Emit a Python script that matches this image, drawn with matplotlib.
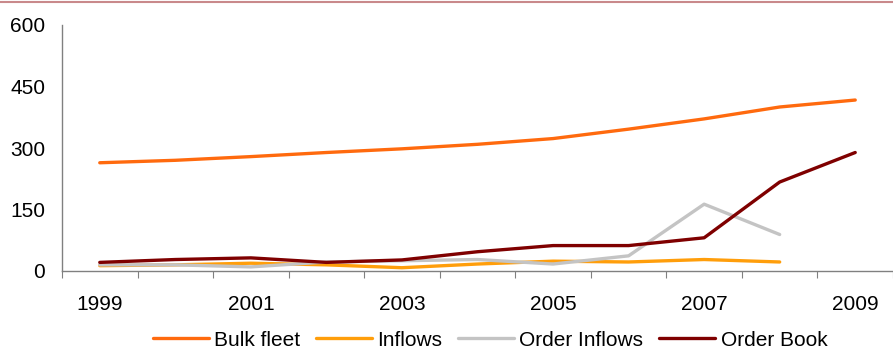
import matplotlib.pyplot as plt
from matplotlib.lines import Line2D

plt.rcParams['font.family'] = ['Liberation Sans', 'DejaVu Sans']

years = list(range(1999, 2010))
bulk_fleet = [264, 270, 279, 289, 298, 309, 323, 346, 371, 400, 417]
inflows = [13, 15, 19, 15, 8, 17, 24, 22, 28, 22]
order_inflows = [15, 15, 10, 22, 25, 28, 17, 37, 163, 89]
order_book = [21, 28, 32, 21, 27, 47, 62, 62, 81, 217, 289]

fig = plt.figure(figsize=(8.93, 3.5), dpi=100)
ax = fig.add_axes([62 / 893, 79 / 350, 831 / 893, 246 / 350])

x = list(range(len(years)))
lw = 2.4
ax.plot(x, bulk_fleet, color='#FF6A0E', lw=lw, label='Bulk fleet', solid_capstyle='round')
ax.plot(x[:len(inflows)], inflows, color='#FF9E0B', lw=lw, label='Inflows', solid_capstyle='round')
ax.plot(x[:len(order_inflows)], order_inflows, color='#C4C4C4', lw=lw, label='Order Inflows', solid_capstyle='round')
ax.plot(x, order_book, color='#7F0000', lw=lw, label='Order Book', solid_capstyle='round')

ax.set_xlim(-0.5, len(years) - 0.5)
ax.set_ylim(0, 600)
ax.set_yticks([0, 150, 300, 450, 600])
ax.tick_params(axis='y', length=0, labelsize=15, pad=12)

# tick marks between categories, labels on every other year
ax.set_xticks([i - 0.5 for i in range(len(years) + 1)])
ax.set_xticklabels([])
ax.tick_params(axis='x', which='major', direction='out', length=5, color='#808080')
ax.set_xticks(x[::2], minor=True)
ax.set_xticklabels([str(y) for y in years[::2]], minor=True)
ax.tick_params(axis='x', which='minor', length=0, labelsize=15, pad=17)

for s in ['top', 'right']:
    ax.spines[s].set_visible(False)
for s in ['left', 'bottom']:
    ax.spines[s].set_color('#808080')
    ax.spines[s].set_linewidth(1.0)

leg = ax.legend(loc='center', bbox_to_anchor=(490 / 893, 10 / 350),
                bbox_transform=fig.transFigure, ncol=4, frameon=False,
                fontsize=15, handlelength=2.7, handletextpad=0.25, columnspacing=0.75,
                borderpad=0)

fig.add_artist(Line2D([0, 1], [1 - 2 / 350, 1 - 2 / 350], transform=fig.transFigure,
                      color='#C9898B', lw=1.5))

fig.savefig('out.png', dpi=100)
